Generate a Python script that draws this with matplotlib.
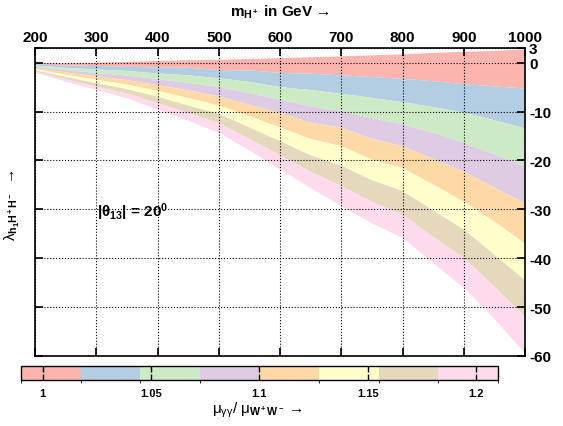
import numpy as np
import matplotlib.pyplot as plt
from matplotlib.colors import ListedColormap, BoundaryNorm
import matplotlib as mpl

plt.rcParams['font.family'] = ['Liberation Sans', 'DejaVu Sans']
plt.rcParams['mathtext.fontset'] = 'custom'
plt.rcParams['mathtext.rm'] = 'Liberation Sans'
plt.rcParams['mathtext.it'] = 'Liberation Sans:italic'
plt.rcParams['mathtext.bf'] = 'Liberation Sans:bold'

# charged higgs mass (GeV)
m_hp = [200, 250, 300, 350, 400, 450, 500, 550, 600,
        650, 700, 750, 800, 850, 900, 950, 1000]

# mu_gamgam / mu_WW band edges
mu_edges = [0.99, 1.0175, 1.045, 1.0725, 1.1, 1.1275, 1.155, 1.1825, 1.21]

# lambda at each mu edge (top -> bottom), one row per mass point
lam_by_mass = [
    [0.0, -0.25, -0.5, -0.75, -1.0, -1.25, -1.5, -1.75, -2.0],
    [0.0, -0.48, -0.95, -1.43, -1.9, -2.38, -2.85, -3.33, -3.8],
    [0.1, -0.6, -1.3, -2.0, -2.7, -3.4, -4.1, -4.8, -5.5],
    [0.25, -0.68, -1.61, -2.54, -3.48, -4.41, -5.34, -6.27, -7.2],
    [0.45, -0.9, -2.1, -3.3, -4.5, -5.7, -6.9, -8.2, -9.5],
    [0.6, -0.95, -2.5, -4.05, -5.6, -7.15, -8.7, -10.25, -11.8],
    [0.7, -1.4, -3.1, -4.9, -6.8, -8.7, -10.4, -12.3, -14.3],
    [0.85, -1.5, -3.84, -6.19, -8.53, -10.87, -13.21, -15.56, -17.9],
    [1.0, -2.0, -4.9, -7.5, -10.2, -13.2, -16.0, -18.9, -21.8],
    [1.2, -2.15, -5.5, -8.85, -12.2, -15.55, -18.9, -22.25, -25.6],
    [1.4, -2.5, -6.3, -9.8, -13.2, -17.0, -21.0, -25.2, -29.3],
    [1.6, -2.85, -7.1, -11.3, -15.5, -19.8, -24.0, -28.4, -32.8],
    [1.8, -3.2, -8.0, -12.5, -17.0, -21.5, -26.2, -31.0, -35.8],
    [2.1, -3.7, -9.0, -14.3, -19.6, -24.9, -30.2, -35.6, -41.0],
    [2.3, -4.3, -10.1, -16.3, -22.2, -28.4, -34.1, -39.9, -46.0],
    [2.5, -4.75, -11.7, -18.7, -25.5, -32.5, -39.3, -45.8, -52.4],
    [2.8, -5.2, -13.4, -21.2, -28.7, -37.0, -44.5, -52.0, -59.5],
]

cbar_ticks = [1, 1.05, 1.1, 1.15, 1.2]
cbar_labels = ['1', '1.05', '1.1', '1.15', '1.2']
y_ticks = [3, 0, -10, -20, -30, -40, -50, -60]

lam_edges = np.array(lam_by_mass).T

colors = plt.cm.Pastel1.colors[:8]
cmap = ListedColormap(colors)
norm = BoundaryNorm(mu_edges, cmap.N)

fig = plt.figure(figsize=(5.63, 4.27), dpi=100)
ax = fig.add_axes([0.0622, 0.164, 0.8703, 0.7213])

for i in range(8):
    ax.fill_between(m_hp, lam_edges[i], lam_edges[i + 1], color=colors[i], lw=0)

ax.set_xlim(200, 1000)
ax.set_ylim(-60, 3)
ax.set_xticks(range(200, 1001, 100))
ax.set_yticks(y_ticks)
ax.set_yticklabels([str(t) for t in y_ticks])
ax.grid(True, ls=':', color='k', lw=0.8)
ax.tick_params(axis='both', direction='in', length=6, width=1.2,
               top=True, bottom=True, left=True, right=True,
               labeltop=True, labelbottom=False, labelleft=False, labelright=True,
               labelsize=11, pad=3)
for lab in ax.get_xticklabels() + ax.get_yticklabels():
    lab.set_fontweight('bold')
for s in ax.spines.values():
    s.set_linewidth(1.2)

fig.text(0.497, 0.972, r'm$_{\mathbf{H^+}}$ in GeV →', fontsize=11,
         fontweight='bold', ha='center', va='center')
fig.text(0.022, 0.52, r'λ$_{\mathbf{h_1H^+H^-}}$  →', fontsize=11,
         rotation=90, ha='center', va='center')

ax.text(0.127, 0.47, r'|θ$_{\mathbf{13}}$| = 20$^{\mathbf{0}}$', transform=ax.transAxes,
        fontsize=11, fontweight='bold', va='center')

cax = fig.add_axes([0.0373, 0.1077, 0.847, 0.0328])
cb = mpl.colorbar.ColorbarBase(cax, cmap=cmap, norm=norm, orientation='horizontal',
                               boundaries=mu_edges, ticks=cbar_ticks)
cb.set_ticklabels(cbar_labels)
cax.tick_params(direction='in', length=4, width=1, top=True, bottom=True,
                labelsize=8, pad=6)
for lab in cax.get_xticklabels():
    lab.set_fontweight('bold')
cb.outline.set_linewidth(1)
fig.text(0.458, 0.04, r'μ$_{\mathrm{γγ}}$/ μ$_{\mathbf{W^+W^-}}$ →', fontsize=11,
         ha='center', va='center')

fig.savefig('out.png', dpi=100)
